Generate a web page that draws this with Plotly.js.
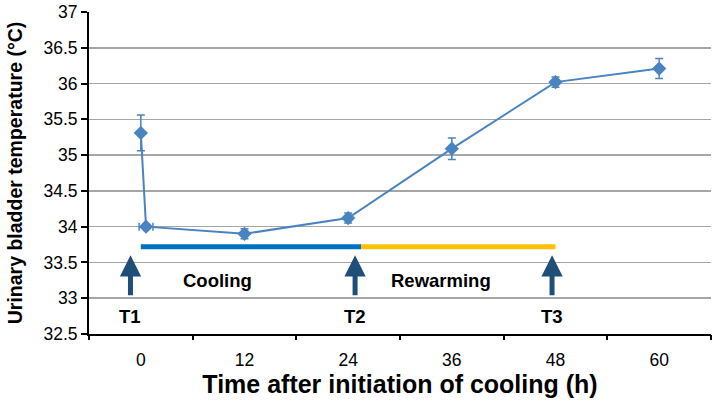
<!DOCTYPE html>
<html>
<head>
<meta charset="utf-8">
<script src="https://cdn.plot.ly/plotly-3.0.1.min.js"></script>
<style>html,body{margin:0;padding:0;background:#fff}#chart{width:718px;height:405px}</style>
</head>
<body>
<div id="chart"></div>
<script>
// Data
var timeH = [0, 0.6, 12, 24, 36, 48, 60];
var tempC = [35.31, 34.0, 33.9, 34.12, 35.09, 36.02, 36.21];
var tempErr = [0.25, 0.03, 0.07, 0.07, 0.15, 0.07, 0.14];
var timeErr = [0, 0.8, 0, 0, 0, 0, 0];
var xTickVals = [0, 12, 24, 36, 48, 60];
var xTickText = ['0', '12', '24', '36', '48', '60'];
var xBoundaryTicks = [-6, 6, 18, 30, 42, 54, 66];
var yTickVals = [32.5, 33, 33.5, 34, 34.5, 35, 35.5, 36, 36.5, 37];
var coolingPhase = [0, 25.5];
var rewarmingPhase = [25.5, 48];
var phaseLevel = 33.72;
var markerNames = ['T1', 'T2', 'T3'];
var markerTimes = [-1.2, 24.8, 47.6];
var phaseLabels = ['Cooling', 'Rewarming'];
var phaseLabelX = [8.9, 34.8];

var font = 'Liberation Sans, Arial, sans-serif';
var traces = [
  {x: coolingPhase, y: [phaseLevel, phaseLevel], mode: 'lines', line: {color: '#0070C0', width: 5}, hoverinfo: 'skip'},
  {x: rewarmingPhase, y: [phaseLevel, phaseLevel], mode: 'lines', line: {color: '#FFC000', width: 5}, hoverinfo: 'skip'},
  {x: timeH, y: tempC, mode: 'lines+markers',
   line: {color: '#4A84C0', width: 2},
   marker: {symbol: 'diamond', size: 11, color: '#4A84C0'},
   error_y: {type: 'data', array: tempErr, visible: true, color: '#4A84C0', thickness: 1.5, width: 4},
   error_x: {type: 'data', array: timeErr, visible: true, color: '#4A84C0', thickness: 1.5, width: 4}},
  {x: [-6, 66], y: [32.5, 32.5], xaxis: 'x2', mode: 'lines', line: {color: 'rgba(0,0,0,0)'}, hoverinfo: 'skip'}
];

var annotations = [];
markerTimes.forEach(function (t, i) {
  annotations.push({x: t, y: 33.6, ax: t, ay: 33.02, xref: 'x', yref: 'y', axref: 'x', ayref: 'y',
    showarrow: true, arrowhead: 2, arrowsize: 0.85, arrowwidth: 5, arrowcolor: '#1F4E79', text: ''});
  annotations.push({x: t, y: 32.74, xref: 'x', yref: 'y', text: '<b>' + markerNames[i] + '</b>', showarrow: false,
    font: {family: font, size: 18.5, color: '#000'}});
});
phaseLabels.forEach(function (s, i) {
  annotations.push({x: phaseLabelX[i], y: 33.25, xref: 'x', yref: 'y', text: '<b>' + s + '</b>', showarrow: false,
    font: {family: font, size: 18.5, color: '#000'}});
});

var layout = {
  width: 718, height: 405,
  margin: {l: 89, r: 7, t: 12, b: 71},
  paper_bgcolor: '#fff', plot_bgcolor: '#fff',
  showlegend: false,
  font: {family: font, color: '#000'},
  xaxis: {range: [-6, 66], tickvals: xTickVals, ticktext: xTickText, ticks: 'outside', ticklen: 9,
    tickcolor: 'rgba(0,0,0,0)', showgrid: false, zeroline: false, showline: true, linecolor: '#000', linewidth: 2,
    tickfont: {size: 17.5, family: font},
    title: {text: '<b>Time after initiation of cooling (h)</b>', font: {size: 25, family: font}, standoff: 4}},
  xaxis2: {range: [-6, 66], overlaying: 'x', anchor: 'y', side: 'bottom', tickvals: xBoundaryTicks, showticklabels: false,
    ticks: 'outside', ticklen: 5, tickwidth: 2, tickcolor: '#000', showgrid: false, zeroline: false, showline: false},
  yaxis: {range: [32.5, 37], tickvals: yTickVals, ticks: 'outside', ticklen: 6, tickwidth: 2, tickcolor: '#000',
    showline: true, linecolor: '#000', linewidth: 2, showgrid: true, gridcolor: '#A6A6A6', gridwidth: 1.5,
    zeroline: false, tickfont: {size: 17.5, family: font},
    title: {text: '<b>Urinary bladder temperature (°C)</b>', font: {size: 19.5, family: font}, standoff: 16}},
  annotations: annotations
};
Plotly.newPlot('chart', traces, layout, {staticPlot: true});
</script>
</body>
</html>
